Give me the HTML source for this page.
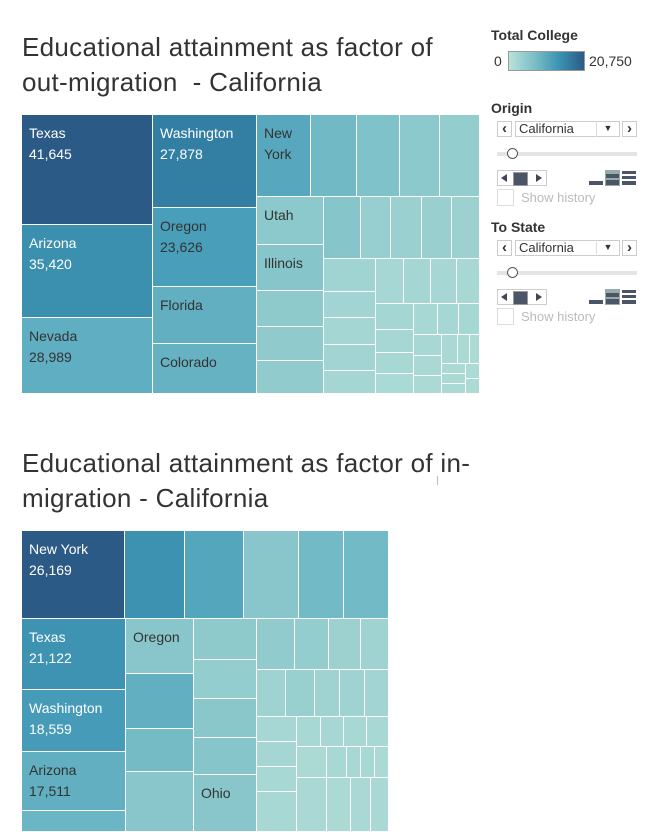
<!DOCTYPE html>
<html><head><meta charset="utf-8">
<style>
body{margin:0;width:653px;height:794px;overflow:hidden;background:#fff;font-family:"Liberation Sans",sans-serif;position:relative}
.title{position:absolute;left:22px;font-size:26px;line-height:35px;color:#333;font-weight:normal;letter-spacing:0.3px;white-space:nowrap}
.tm{position:absolute;overflow:hidden}
.cell{position:absolute;box-sizing:border-box;border-right:1px solid #fff;border-bottom:1px solid #fff;font-size:14px;line-height:21px;padding:8px 0 0 7px;overflow:hidden}
.lbl{position:absolute;font-size:14px;color:#333;font-weight:bold}
.arrowbox{position:absolute;width:15px;height:16px;border:1px solid #ccc;box-sizing:border-box;background:#fff;font-size:15px;line-height:13px;text-align:center;color:#333;font-weight:bold}
.dd{position:absolute;height:16px;border:1px solid #ccc;box-sizing:border-box;font-size:13px;line-height:14px;padding-left:3px;color:#333}
.slider{position:absolute;height:4px;background:#e4e4e4}
.knob{position:absolute;width:9px;height:9px;border:1px solid #555;border-radius:50%;background:#fff}
.cb{position:absolute;width:17px;height:17px;border:1px solid #ddd;box-sizing:border-box}
.sh{position:absolute;font-size:13px;color:#bbb}
</style></head><body>
<div class="title" style="top:30px">Educational attainment as factor of<br>out-migration&nbsp; - California</div>
<div id="tm1" class="tm" style="left:22px;top:115px;width:458px;height:279px"></div>
<div class="title" style="top:446px">Educational attainment as factor of in-<br>migration - California</div>
<div style="position:absolute;left:437px;top:476px;width:1px;height:9px;background:#bbb"></div>
<div id="tm2" class="tm" style="left:22px;top:531px;width:367px;height:301px"></div>

<div class="lbl" style="left:491px;top:27px">Total College</div>
<div style="position:absolute;left:494px;top:53px;font-size:14px;color:#333">0</div>
<div style="position:absolute;left:508px;top:51px;width:77px;height:20px;box-sizing:border-box;border:1px solid #999;background:linear-gradient(to right,#b9e2da,#7cbfc7,#3b93b3,#2c5a86)"></div>
<div style="position:absolute;left:589px;top:53px;font-size:14px;color:#333">20,750</div>

<div id="filters"></div>
<script>
// ---- Top treemap data (out-migration). leaf: [label, value, totalCollege]
const outTree = {d:'h',k:[
 {d:'v',k:[['Texas',41645,20750],['Arizona',35420,14700],['Nevada',28989,10500]]},
 {d:'v',k:[['Washington',27878,16600],['Oregon',23626,12600],['Florida',16800,10400],['Colorado',15000,10000]]},
 {d:'v',k:[
  {d:'h',k:[['New York',12885,11300],['',10977,9000],['',10261,7500],['',9545,6300],['',9545,5600]]},
  {d:'h',k:[
   {d:'v',k:[['Utah',9359,6300],['Illinois',8774,6900],['',7019,6200],['',6629,6000],['',6434,5800]]},
   {d:'v',k:[
    {d:'h',k:[['',6568,6900],['',5325,5300],['',5503,4900],['',5325,5000],['',4970,4600]]},
    {d:'h',k:[
     {d:'v',k:[['',4994,3900],['',3934,3800],['',4086,3300],['',3934,3700],['',3480,3200]]},
     {d:'v',k:[
      {d:'h',k:[['',3667,3000],['',3536,3300],['',3405,3000],['',3012,2800]]},
      {d:'h',k:[
       {d:'v',k:[['',2875,3300],['',2543,3000],['',2322,2600],['',2212,2300]]},
       {d:'v',k:[
        {d:'h',k:[['',2165,2600],['',1894,2900],['',1894,3100]]},
        {d:'h',k:[
         {d:'v',k:[['',1711,2600],['',1630,2400],['',1467,2200]]},
         {d:'v',k:[
          {d:'h',k:[['',1350,2400],['',1013,2200],['',844,2000]]},
          {d:'h',k:[{d:'v',k:[['',698,2200],['',698,2200],['',698,2200]]},{d:'v',k:[['',611,2000],['',611,2000]]}]}
         ]}
        ]}
       ]}
      ]}
     ]}
    ]}
   ]}
  ]}
 ]}
]};
const outLabels = {Texas:'41,645',Arizona:'35,420',Nevada:'28,989',Washington:'27,878',Oregon:'23,626'};

// ---- Bottom treemap data (in-migration)
const inTree = {d:'v',k:[
 {d:'h',k:[['New York',26169,20750],['',15243,14300],['',14735,11600],['',13973,6700],['',11433,8900],['',11433,8900]]},
 {d:'h',k:[
  {d:'v',k:[['Texas',21122,14200],['Washington',18559,13000],['Arizona',17511,10400],['',6245,9500]]},
  {d:'v',k:[['Oregon',10797,6700],['',10600,10400],['',8441,8700],['',11778,6700]]},
  {d:'v',k:[['',7458,6200],['',7094,5600],['',6912,6600],['',6730,6900],['Ohio',10368,6700]]},
  {d:'v',k:[
   {d:'h',k:[['',5595,5800],['',5005,5600],['',4711,4600],['',4122,4200]]},
   {d:'h',k:[['',3851,4200],['',3851,5200],['',3320,4200],['',3320,4200],['',3187,3700]]},
   {d:'h',k:[
    {d:'v',k:[['',2887,3000],['',2887,3200],['',2887,2600],['',4620,2600]]},
    {d:'v',k:[
     {d:'h',k:[['',2078,2600],['',1992,3000],['',1992,2600],['',1905,2600]]},
     {d:'h',k:[['',2685,2200],['',1790,2800],['',1253,2600],['',1253,2600],['',1253,2200]]},
     {d:'h',k:[['',4677,2400],['',3741,2200],['',3118,2400],['',2806,2400]]}
    ]}
   ]}
  ]}
 ]}
]};
const inLabels = {'New York':'26,169',Texas:'21,122',Washington:'18,559',Arizona:'17,511'};

const colorMax = 20750;
const stops = [[0,[185,226,218]],[0.25,[152,207,207]],[0.45,[109,183,196]],[0.6,[74,160,187]],[0.75,[53,137,171]],[0.88,[47,111,152]],[1,[44,90,134]]];
function colorScale(v){
  const t=Math.max(0,Math.min(1,v/colorMax));
  for(let i=1;i<stops.length;i++){
    if(t<=stops[i][0]){
      const a=stops[i-1],b=stops[i],f=(t-a[0])/(b[0]-a[0]);
      const c=a[1].map((x,j)=>Math.round(x+(b[1][j]-x)*f));
      return 'rgb('+c.join(',')+')';
    }
  }
  return 'rgb(44,90,134)';
}
function sum(n){return Array.isArray(n)?n[1]:n.k.reduce((s,c)=>s+sum(c),0);}
function layout(n,x,y,w,h,out){
  if(Array.isArray(n)){out.push({leaf:n,x,y,w,h});return;}
  const tot=sum(n);let off=0;
  n.k.forEach(c=>{
    const f=sum(c)/tot;
    if(n.d==='h'){layout(c,x+off,y,w*f,h,out);off+=w*f;}
    else{layout(c,x,y+off,w,h*f,out);off+=h*f;}
  });
}
function draw(id,tree,W,H,labels,prefix){
  const host=document.getElementById(id);
  const rects=[];layout(tree,0,0,W,H,rects);
  rects.forEach((r,i)=>{
    const el=document.createElement('div');
    el.className='cell';
    
    
    el.style.left=Math.round(r.x)+'px';el.style.top=Math.round(r.y)+'px';
    el.style.width=(Math.round(r.x+r.w)-Math.round(r.x))+'px';
    el.style.height=(Math.round(r.y+r.h)-Math.round(r.y))+'px';
    el.style.background=colorScale(r.leaf[2]);
    el.style.color=r.leaf[2]>12900?'#fff':'#333';
    if(r.leaf[0]){
      let name=r.leaf[0];
      if(r.w<60) name=name.replace(' ','<br>');
      el.innerHTML=name+(labels[r.leaf[0]]?'<br>'+labels[r.leaf[0]]:'');
    }
    host.appendChild(el);
  });
}
draw('tm1',outTree,458,279,outLabels,'out');
draw('tm2',inTree,367,301,inLabels,'in');

function filter(title,top,key){
  const f=document.getElementById('filters');
  f.insertAdjacentHTML('beforeend',
  `<div class="lbl" style="left:491px;top:${top}px">${title}</div>
  <div class="arrowbox" style="left:497px;top:${top+21}px">&#8249;</div>
  <div class="dd" style="left:515px;top:${top+21}px;width:105px">California<span style="position:absolute;right:0;top:-1px;width:22px;border-left:1px solid #ddd;height:16px;text-align:center;font-size:9px">&#9660;</span></div>
  <div class="arrowbox" style="left:622px;top:${top+21}px">&#8250;</div>
  <div class="slider" style="left:497px;top:${top+52}px;width:140px"></div>
  <div class="knob" style="left:507px;top:${top+48}px"></div>
  <div style="position:absolute;left:497px;top:${top+70}px;width:50px;height:16px;border:1px solid #ccc;box-sizing:border-box;background:#fff">
    <div style="position:absolute;left:3px;top:3px;width:0;height:0;border-top:4px solid transparent;border-bottom:4px solid transparent;border-right:6px solid #445"></div>
    <div style="position:absolute;left:15px;top:1px;width:13px;height:12px;background:#4a5568;border:1px solid #999"></div>
    <div style="position:absolute;left:38px;top:3px;width:0;height:0;border-top:4px solid transparent;border-bottom:4px solid transparent;border-left:6px solid #445"></div>
  </div>
  <div style="position:absolute;left:589px;top:${top+70}px;width:48px;height:16px">
    <div style="position:absolute;left:0;top:11px;width:14px;height:4px;background:#4a5568"></div>
    <div style="position:absolute;left:16px;top:0;width:15px;height:16px;background:#9aa;"><div style="position:absolute;left:1px;top:4px;width:13px;height:4px;background:#4a5568"></div><div style="position:absolute;left:1px;top:10px;width:13px;height:5px;background:#4a5568"></div></div>
    <div style="position:absolute;left:33px;top:1px;width:14px;height:3px;background:#4a5568"></div>
    <div style="position:absolute;left:33px;top:6px;width:14px;height:3px;background:#4a5568"></div>
    <div style="position:absolute;left:33px;top:11px;width:14px;height:4px;background:#4a5568"></div>
  </div>
  <div class="cb" style="left:497px;top:${top+89}px"></div>
  <div class="sh" style="left:521px;top:${top+90}px">Show history</div>`);
}
filter('Origin',100,'origin');
filter('To State',219,'to-state');
</script>
</body></html>
